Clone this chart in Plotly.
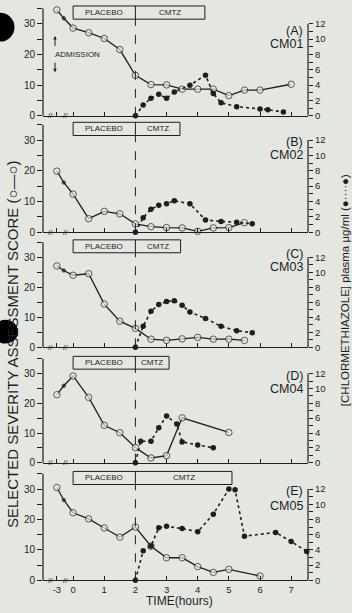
import plotly.graph_objects as go

# ---------------- data ----------------
panel_letters = ["A", "B", "C", "D", "E"]
patient_ids = ["CM01", "CM02", "CM03", "CM04", "CM05"]

# severity score (open circles, left axis)
a_score_t = [-3, -1.5, 0, 0.5, 1, 1.5, 2, 2.5, 3, 3.5, 4, 4.5, 5, 5.5, 6, 7]
a_score = [34.5, 31.8, 28.6, 27.1, 25.2, 21.6, 13.2, 10.2, 10.1, 8.7, 8.7, 8.7, 6.6, 8.4, 8.4, 10.3]
b_score_t = [-3, -1.5, 0, 0.5, 1, 1.5, 2, 2.5, 3, 3.5, 4, 4.5, 5, 5.5]
b_score = [19.9, 16.2, 12.4, 4.4, 6.8, 6.0, 2.7, 1.8, 1.5, 1.4, 0.3, 1.4, 1.5, 3.1]
c_score_t = [-3, -1.5, 0, 0.5, 1, 1.5, 2, 2.5, 3, 3.5, 4, 4.5, 5, 5.5]
c_score = [27.1, 25.6, 24.0, 24.5, 14.4, 8.7, 6.3, 2.7, 2.3, 2.8, 3.3, 2.7, 2.7, 2.3]
d_score_t = [-3, -1.5, 0, 0.5, 1, 1.5, 2, 2.5, 3, 3.5, 5]
d_score = [22.9, 25.9, 29.2, 22.0, 12.6, 10.1, 5.1, 1.6, 2.4, 15.1, 10.2]
e_score_t = [-3, -1.5, 0, 0.5, 1, 1.5, 2, 2.5, 3, 3.5, 4, 4.5, 5, 6]
e_score = [30.5, 26.4, 22.2, 20.2, 17.2, 14.2, 17.5, 11.2, 7.4, 7.4, 4.5, 2.6, 3.6, 1.4]

# chlormethiazole plasma level (filled dots, right axis, ug/ml)
a_cmz_t = [2, 2.25, 2.5, 2.75, 3, 3.25, 3.75, 4.25, 4.5, 4.75, 5.25, 6, 6.25, 6.75]
a_cmz = [0, 1.4, 2.3, 2.8, 2.3, 3.1, 4.0, 5.3, 2.9, 1.7, 1.2, 0.9, 0.8, 0.5]
b_cmz_t = [2, 2.25, 2.5, 2.75, 3, 3.25, 3.75, 4.25, 4.75, 5.25, 5.75]
b_cmz = [0, 1.9, 3.0, 3.5, 3.7, 4.1, 3.7, 1.6, 1.4, 1.3, 1.1]
c_cmz_t = [2, 2.25, 2.5, 2.75, 3, 3.25, 3.5, 3.75, 4.25, 4.75, 5.25, 5.75]
c_cmz = [0, 2.8, 4.8, 5.7, 6.1, 6.2, 5.6, 4.7, 3.85, 2.8, 2.2, 1.95]
d_cmz_t = [2, 2.17, 2.5, 2.75, 3, 3.33, 3.5, 4, 4.5]
d_cmz = [0, 2.9, 2.9, 4.7, 6.3, 5.2, 2.8, 2.4, 2.0]
e_cmz_t = [2, 2.25, 2.5, 2.75, 3, 3.5, 4, 4.5, 5, 5.2, 5.5, 6.5, 7, 7.5]
e_cmz = [0, 3.9, 4.5, 6.9, 7.1, 6.8, 6.4, 8.7, 12.0, 11.9, 5.8, 6.3, 5.1, 3.8]

# treatment bar: placebo 0-2 h, CMTZ 2-end
cmtz_end = [4.23, 3.43, 3.45, 3.08, 5.1]

time_ticks = [-3, 0, 1, 2, 3, 4, 5, 6, 7]
score_ticks = [0, 5, 10, 15, 20, 25, 30, 35]
conc_ticks = list(range(0, 13))

score_sets = [(a_score_t, a_score), (b_score_t, b_score), (c_score_t, c_score),
              (d_score_t, d_score), (e_score_t, e_score)]
cmz_sets = [(a_cmz_t, a_cmz), (b_cmz_t, b_cmz), (c_cmz_t, c_cmz),
            (d_cmz_t, d_cmz), (e_cmz_t, e_cmz)]

# ---------------- style / layout ----------------
BG = "#e4e6e1"
INK = "#1e1e1e"
FONT = "Liberation Sans, Arial, sans-serif"
W, H = 352, 613
XL, XR = 43, 308
XRANGE = [-0.966, 7.54]
YTOP = 37
RATIO = 0.4  # right-axis units per left-axis unit
y0_px = [117, 234.5, 350.7, 467.3, 586]
ppu = [3.1, 3.1, 3.03, 3.0, 3.07]
letter_y = [27.5, 29.4, 31.0, 29.1, 29.3]
id_y = [23.4, 25.2, 26.8, 24.8, 24.4]


def pos(t):
    """broken time axis: pre-admission hours compressed"""
    return t if t >= 0 else -0.52 + (t + 3) * (0.22 / 1.5)


fig = go.Figure()
layout = dict(
    width=W, height=H, paper_bgcolor=BG, plot_bgcolor=BG,
    margin=dict(l=0, r=0, t=0, b=0), showlegend=False,
    font=dict(family=FONT, color=INK, size=10),
)
annotations = []
shapes = []

for i in range(5):
    n = i + 1
    nr = i + 6
    xa, ya, yr = f"x{n}", f"y{n}", f"y{nr}"
    bottom = (H - y0_px[i]) / H
    top = (H - y0_px[i] + YTOP * ppu[i]) / H
    layout[f"xaxis{n}"] = dict(
        domain=[XL / W, XR / W], range=XRANGE, anchor=ya,
        showline=True, linecolor=INK, linewidth=1.2, showgrid=False, zeroline=False,
        ticks="inside", ticklen=4, tickcolor=INK, tickwidth=1,
        tickvals=[pos(t) for t in time_ticks], ticktext=[str(t) for t in time_ticks],
        showticklabels=(n == 5), tickfont=dict(size=9.5), ticklabelstandoff=0,
    )
    layout[f"yaxis{n}"] = dict(
        domain=[bottom, top], range=[0, YTOP], anchor=xa,
        showline=False, showgrid=False, zeroline=False,
        ticks="outside", ticklen=5, tickcolor=INK, tickwidth=1,
        tickvals=score_ticks, ticktext=[str(v) if v % 10 == 0 else "" for v in score_ticks],
        tickfont=dict(size=10),
    )
    layout[f"yaxis{nr}"] = dict(
        overlaying=ya, side="right", anchor=xa, range=[0, YTOP * RATIO],
        showline=False, showgrid=False, zeroline=False,
        ticks="outside", ticklen=4, tickcolor=INK, tickwidth=1,
        tickvals=conc_ticks, ticktext=[str(v) if v % 2 == 0 else "" for v in conc_ticks],
        tickfont=dict(size=9.5),
    )
    # axis lines of limited extent
    shapes.append(dict(type="line", xref="paper", yref=ya, x0=XL / W, x1=XL / W, y0=0, y1=35,
                       line=dict(color=INK, width=1.2)))
    shapes.append(dict(type="line", xref="paper", yref=yr, x0=XR / W, x1=XR / W, y0=0, y1=12,
                       line=dict(color=INK, width=1.2)))
    # treatment box
    shapes.append(dict(type="rect", xref=xa, yref=ya, x0=0, x1=cmtz_end[i], y0=31.5, y1=35.8,
                       line=dict(color=INK, width=1)))
    shapes.append(dict(type="line", xref=xa, yref=ya, x0=2, x1=2, y0=31.5, y1=35.8,
                       line=dict(color=INK, width=1)))
    shapes.append(dict(type="line", xref=xa, yref=ya, x0=2, x1=2, y0=0, y1=31.5,
                       line=dict(color=INK, width=1, dash="dash")))
    annotations.append(dict(xref=xa, yref=ya, x=1.0, y=33.65, text="PLACEBO", showarrow=False,
                            xanchor="center", font=dict(size=8)))
    annotations.append(dict(xref=xa, yref=ya, x=(2 + cmtz_end[i]) / 2, y=33.65, text="CMTZ",
                            xanchor="center", showarrow=False, font=dict(size=8)))
    # panel label
    annotations.append(dict(xref="paper", yref=ya, x=304 / W, y=letter_y[i], xanchor="right",
                            text=f"({panel_letters[i]})", showarrow=False, font=dict(size=12.5),
                            borderpad=0))
    annotations.append(dict(xref="paper", yref=ya, x=304 / W, y=id_y[i], xanchor="right",
                            text=patient_ids[i], showarrow=False, font=dict(size=12.5),
                            borderpad=0))
    # axis breaks
    for bx in (-0.72, -0.24):
        annotations.append(dict(xref=xa, yref=ya, x=bx, y=0, text="//", showarrow=False,
                                xanchor="center", font=dict(size=8), yanchor="middle"))

    # plasma level trace
    ct, cv = cmz_sets[i]
    fig.add_trace(go.Scatter(
        x=[pos(t) for t in ct], y=cv, xaxis=xa, yaxis=yr, mode="lines+markers",
        line=dict(color=INK, width=1.6, dash="dot"),
        marker=dict(color=INK, size=5.5, symbol="circle"), cliponaxis=False,
    ))
    # score trace
    st, sv = score_sets[i]
    fig.add_trace(go.Scatter(
        x=[pos(t) for t in st], y=sv, xaxis=xa, yaxis=ya, mode="lines+markers",
        line=dict(color=INK, width=1.3),
        marker=dict(
            color=[INK if (-3 < t < 0) else BG for t in st],
            size=[3.5 if (-3 < t < 0) else 6.5 for t in st],
            line=dict(color=INK, width=1)),
        cliponaxis=False,
    ))

# admission note in panel A
annotations.append(dict(xref="x1", yref="y1", x=-0.66, y=20, text="ADMISSION", xanchor="left",
                        showarrow=False, font=dict(size=8)))
annotations.append(dict(xref="x1", yref="y1", axref="x1", ayref="y1", x=-0.58, y=26, ax=-0.58, ay=22.3,
                        text="", showarrow=True, arrowhead=2, arrowsize=0.7, arrowwidth=1, arrowcolor=INK))
annotations.append(dict(xref="x1", yref="y1", axref="x1", ayref="y1", x=-0.58, y=14.2, ax=-0.58, ay=17.8,
                        text="", showarrow=True, arrowhead=2, arrowsize=0.7, arrowwidth=1, arrowcolor=INK))

# axis titles
annotations.append(dict(xref="paper", yref="paper", x=12.5 / W, y=(H - 348) / H, textangle=-90,
                        xanchor="center", yanchor="middle",
                        text="SELECTED SEVERITY ASSESSMENT SCORE (○—○)", showarrow=False,
                        font=dict(size=15)))
annotations.append(dict(xref="paper", yref="paper", x=345 / W, y=(H - 293) / H, textangle=-90,
                        xanchor="center", yanchor="middle",
                        text="[CHLORMETHIAZOLE] plasma µg/ml (●····●)", showarrow=False,
                        font=dict(size=11.5)))
annotations.append(dict(xref="paper", yref="paper", x=179 / W, y=-2 / H, yanchor="bottom",
                        xanchor="center", borderpad=0,
                        text="TIME(hours)", showarrow=False, font=dict(size=12)))

# punch holes of the scanned page
shapes.append(dict(type="circle", xref="paper", yref="paper", x0=-14.5 / W, x1=14.5 / W,
                   y0=(H - 42) / H, y1=(H - 13) / H, fillcolor="#000000", line=dict(width=0)))
shapes.append(dict(type="circle", xref="paper", yref="paper", x0=-7 / W, x1=18 / W,
                   y0=(H - 347) / H, y1=(H - 323) / H, fillcolor="#000000", line=dict(width=0)))

layout["annotations"] = annotations
layout["shapes"] = shapes
fig.update_layout(**layout)

fig.write_html("out.html", config={"displayModeBar": False},
               post_script="document.body.style.margin='0';document.body.style.overflow='hidden';")
